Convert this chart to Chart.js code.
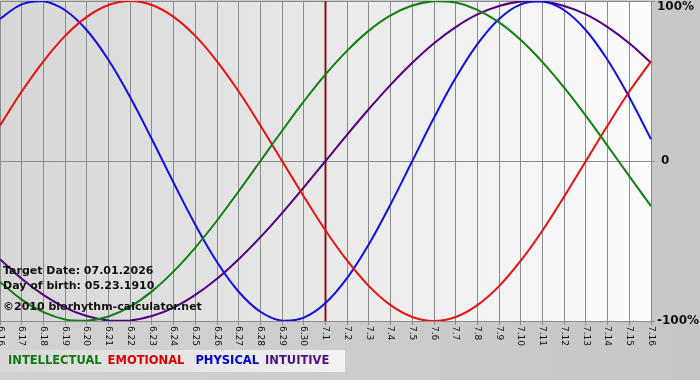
<!DOCTYPE html>
<html>
<head>
<meta charset="utf-8">
<script src="https://cdn.jsdelivr.net/npm/chart.js@4/dist/chart.umd.min.js"></script>
<style>
body { margin: 0; background: #c8c8c8; }
</style>
</head>
<body>
<canvas id="myChart" width="700" height="380"></canvas>
<script>
const DAYS = ['6.16', '6.17', '6.18', '6.19', '6.20', '6.21', '6.22', '6.23', '6.24', '6.25', '6.26', '6.27', '6.28', '6.29', '6.30',
    '7.1', '7.2', '7.3', '7.4', '7.5', '7.6', '7.7', '7.8', '7.9', '7.10', '7.11', '7.12', '7.13', '7.14', '7.15', '7.16'];

const INTELLECTUAL = [-75.6, -86.6, -94.5, -99.0, -99.9, -97.2, -91.0, -81.5, -69.0, -54.1, -37.2, -18.9, 0, 18.9, 37.2,
    54.1, 69.0, 81.5, 91.0, 97.2, 99.9, 99.0, 94.5, 86.6, 75.6, 61.8, 45.8, 28.2, 9.5, -9.5, -28.2];
const EMOTIONAL = [22.2, 43.4, 62.3, 78.2, 90.1, 97.5, 100, 97.5, 90.1, 78.2, 62.3, 43.4, 22.2, 0, -22.2,
    -43.4, -62.3, -78.2, -90.1, -97.5, -100, -97.5, -90.1, -78.2, -62.3, -43.4, -22.2, 0, 22.2, 43.4, 62.3];
const PHYSICAL = [88.8, 97.9, 99.8, 94.2, 81.7, 63.1, 39.8, 13.6, -13.6, -39.8, -63.1, -81.7, -94.2, -99.8, -97.9,
    -88.8, -73.1, -52.0, -27.0, 0, 27.0, 52.0, 73.1, 88.8, 97.9, 99.8, 94.2, 81.7, 63.1, 39.8, 13.6];
const INTUITIVE = [-61.4, -73.6, -83.7, -91.6, -96.9, -99.7, -99.7, -96.9, -91.6, -83.7, -73.6, -61.4, -47.6, -32.5, -16.5,
    0, 16.5, 32.5, 47.6, 61.4, 73.6, 83.7, 91.6, 96.9, 99.7, 99.7, 96.9, 91.6, 83.7, 73.6, 61.4];

const TARGET_DAY = '7.1';
const Y_TICK_VALUES = [100, 0, -100];
const Y_TICK_LABELS = ['100%', '0', '-100%'];
const INFO_LINES = ['Target Date: 07.01.2026', 'Day of birth: 05.23.1910', '\u00A92010 biorhythm-calculator.net'];
const LEGEND_NAMES = ['INTELLECTUAL', 'EMOTIONAL', 'PHYSICAL', 'INTUITIVE'];
const LEGEND_COLORS = ['#107a10', '#e00000', '#0000d0', '#50107a'];

var ctx = document.getElementById('myChart').getContext('2d');

const decorPlugin = {
    id: 'decor',
    beforeDraw(chart) {
        const c = chart.ctx;
        const a = chart.chartArea;
        c.save();
        c.fillStyle = '#c8c8c8';
        c.fillRect(0, 0, chart.width, chart.height);
        // bottom band
        let g0 = c.createLinearGradient(0, 0, chart.width, 0);
        g0.addColorStop(0, '#d2d2d2');
        g0.addColorStop(1, '#c6c6c6');
        c.fillStyle = g0;
        c.fillRect(0, a.bottom, chart.width, chart.height - a.bottom);
        // legend strip
        let g1 = c.createLinearGradient(0, 0, 345, 0);
        g1.addColorStop(0, '#d8d8d8');
        g1.addColorStop(1, '#f2f2f2');
        c.fillStyle = g1;
        c.fillRect(0, 350, 345, 22);
        // plot background
        let g2 = c.createLinearGradient(a.left, 0, a.right, 0);
        g2.addColorStop(0, '#d6d6d6');
        g2.addColorStop(1, '#fcfcfc');
        c.fillStyle = g2;
        c.fillRect(a.left, a.top, a.right - a.left, a.bottom - a.top);
        c.restore();
    },
    beforeDatasetsDraw(chart) {
        const c = chart.ctx;
        const a = chart.chartArea;
        const x = chart.scales.x.getPixelForValue(DAYS.indexOf(TARGET_DAY));
        c.save();
        c.strokeStyle = '#801818';
        c.lineWidth = 2;
        c.beginPath();
        c.moveTo(x, a.top);
        c.lineTo(x, a.bottom);
        c.stroke();
        c.restore();
    },
    afterDatasetsDraw(chart) {
        const c = chart.ctx;
        const a = chart.chartArea;
        const xs = chart.scales.x;
        const ys = chart.scales.y;
        c.save();
        // info text
        c.fillStyle = '#111';
        c.font = 'bold 11px "DejaVu Sans"';
        c.textBaseline = 'middle';
        c.textAlign = 'left';
        c.fillText(INFO_LINES[0], 3, 271);
        c.fillText(INFO_LINES[1], 3, 286);
        c.fillText(INFO_LINES[2], 3, 307);
        // x labels, rotated clockwise
        c.font = '9px "DejaVu Sans"';
        for (let i = 0; i < DAYS.length; i++) {
            const px = xs.getPixelForValue(i);
            c.save();
            c.translate(px, a.bottom + 5);
            c.rotate(Math.PI / 2);
            c.textAlign = 'left';
            c.textBaseline = 'middle';
            c.fillText(DAYS[i], 0, 0);
            c.restore();
        }
        // y labels
        c.font = 'bold 12px "DejaVu Sans"';
        for (let i = 0; i < Y_TICK_VALUES.length; i++) {
            let py = ys.getPixelForValue(Y_TICK_VALUES[i]);
            if (i === 0) py = 7;
            c.fillText(Y_TICK_LABELS[i], a.right + (i === 0 ? 6 : (i === 2 ? 6 : 10)), py);
        }
        // legend
        c.font = 'bold 11.5px "DejaVu Sans"';
        let lx = 8;
        for (let i = 0; i < LEGEND_NAMES.length; i++) {
            c.fillStyle = LEGEND_COLORS[i];
            c.fillText(LEGEND_NAMES[i], lx, 361);
            lx += c.measureText(LEGEND_NAMES[i]).width + (i === 1 ? 11 : 6);
        }
        c.restore();
    }
};

function serie(label, data, color) {
    return {
        label: label,
        data: data,
        borderColor: color,
        borderWidth: 2,
        pointRadius: 0,
        tension: 0.4,
        fill: false
    };
}

var myChart = new Chart(ctx, {
    type: 'line',
    data: {
        labels: DAYS,
        datasets: [
            serie('INTELLECTUAL', INTELLECTUAL, '#108010'),
            serie('EMOTIONAL', EMOTIONAL, '#e81010'),
            serie('PHYSICAL', PHYSICAL, '#1010e0'),
            serie('INTUITIVE', INTUITIVE, '#500080')
        ]
    },
    options: {
        responsive: false,
        animation: false,
        layout: { padding: { top: 1, left: 0, right: 0, bottom: 0 } },
        plugins: {
            legend: { display: false },
            tooltip: { enabled: false }
        },
        scales: {
            x: {
                offset: false,
                ticks: { display: false },
                grid: { color: '#8c8c8c', tickLength: 4, lineWidth: 1 },
                border: { color: '#8c8c8c' },
                afterFit(scale) { scale.height = 59; }
            },
            y: {
                position: 'right',
                min: -100,
                max: 100,
                ticks: { display: false, stepSize: 100 },
                grid: { color: '#8c8c8c', tickLength: 4, lineWidth: 1 },
                border: { color: '#8c8c8c' },
                afterFit(scale) { scale.width = 49; }
            }
        }
    },
    plugins: [decorPlugin]
});
</script>
</body>
</html>
